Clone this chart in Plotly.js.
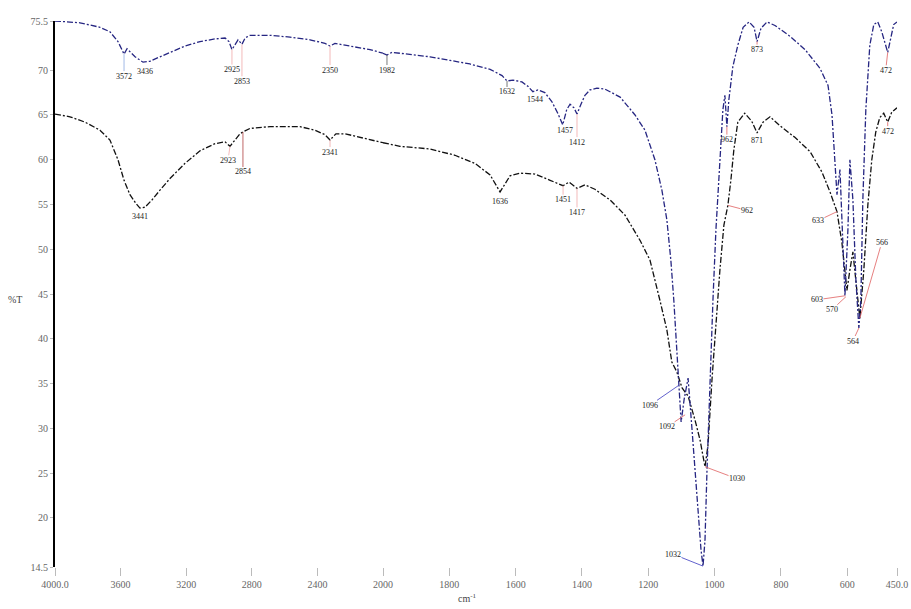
<!DOCTYPE html>
<html>
<head>
<meta charset="utf-8">
<script src="https://cdn.plot.ly/plotly-3.0.1.min.js"></script>
<style>html,body{margin:0;padding:0;background:#fff}#chart{width:911px;height:609px}</style>
</head>
<body>
<div id="chart"></div>
<script>
// ---- data (wavenumber cm-1, %T) ----
const blueWn = [4000,3848,3726,3665,3616,3591,3579,3561,3543,3512,3463,3421,3360,3299,3207,3116,3024,2963,2939,2921,2902,2884,2860,2841,2811,2689,2567,2445,2354,2323,2293,2201,2079,2000,
  1988,1973,1919,1858,1798,1738,1677,1641,1626,1608,1581,1563,1548,1533,1512,1491,1473,1458,1446,1436,1424,1415,1403,1391,1376,1355,1331,1285,1240,1210,1180,1159,1144,1132,1123,1114,1108,1101,1092,1080,1068,1053,1041,1035,1029,1023,1014,1005,996,984,975,969,963,957,945,930,914,896,881,872,860,842,818,773,727,682,658,646,637,631,622,613,607,598,592,583,574,565,559,553,544,532,520,508,496,478,469,460,450];
const blueT = [75.5,75.3,74.8,74.3,73.2,72.3,71.8,72.4,72.1,71.5,70.9,71.0,71.5,72.0,72.7,73.2,73.5,73.6,73.2,72.3,72.9,73.4,72.9,73.6,73.9,73.9,73.7,73.4,73.0,72.7,73.0,72.7,72.3,71.9,
  71.7,72.0,71.8,71.5,71.1,70.7,70.1,69.4,68.8,68.9,68.7,68.2,67.6,67.8,67.5,66.5,65.2,63.9,65.6,66.2,65.8,65.1,66.2,67.2,67.8,68.0,67.9,67.0,65.0,63.3,60.0,56.6,53.3,48.8,44.3,38.7,34.8,30.7,33.2,35.6,29.8,22.0,16.4,14.6,17.5,25.3,35.4,44.3,52.2,60.0,65.6,67.2,63.7,66.7,70.4,72.8,74.8,75.4,74.8,73.2,74.7,75.4,75.0,73.8,72.3,70.2,68.3,65.0,60.0,56.1,58.9,51.0,44.8,52.2,60.0,55.5,46.6,41.2,44.3,55.5,65.6,72.8,75.1,75.4,74.3,72.0,73.6,75.1,75.4];
const blackWn = [4000,3909,3817,3726,3665,3616,3579,3543,3506,3482,3451,3409,3360,3299,3207,3116,3024,2963,2933,2902,2872,2854,2811,2689,2506,2415,2354,2323,2287,2232,2110,2000,
  1949,1858,1783,1723,1677,1647,1632,1617,1587,1542,1496,1457,1439,1415,1391,1361,1315,1270,1225,1195,1165,1144,1129,1114,1098,1080,1059,1044,1029,1020,1008,996,984,972,960,951,942,930,909,888,872,854,833,803,758,712,676,652,631,616,601,592,583,571,562,550,538,526,514,502,490,478,466,450];
const blackT = [65.1,64.8,64.2,63.3,62.2,60.0,57.7,56.1,55.1,54.6,54.7,55.5,56.6,57.9,59.6,61.0,61.8,62.0,61.5,62.2,62.9,63.1,63.5,63.7,63.7,63.3,62.8,62.2,62.9,62.9,62.4,61.9,
  61.5,61.2,60.5,59.6,58.3,56.4,57.3,58.2,58.5,58.4,57.7,57.1,57.5,56.8,57.2,56.7,55.5,53.8,51.0,48.8,44.3,41.0,37.4,36.3,34.5,33.6,30.9,28.7,25.7,28.1,35.4,42.1,47.7,52.7,54.9,57.7,61.1,64.2,65.2,64.3,63.0,64.2,64.8,63.8,62.5,60.9,58.6,56.4,54.2,50.7,45.4,47.7,49.7,45.4,42.3,47.7,54.9,60.0,63.1,64.7,65.2,64.2,65.3,65.8];

// peak labels
const blueLabels = ["3572","3436","2925","2853","2350","1982","1632","1544","1457","1412","1096","1032","962","873","472","603","564"];
const blueLabelWn = [3579,3463,2921,2860,2323,1988,1626,1548,1458,1415,1108,1035,963,872,478,607,565];
const blueLabelT  = [71.8,70.9,72.3,72.9,72.7,71.7,68.8,67.6,63.9,65.1,34.8,14.6,63.7,73.2,72.0,44.8,41.2];
const blackLabels = ["3441","2923","2854","2341","1636","1451","1417","1092","1030","962","871","633","570","566","472"];
const blackLabelWn = [3482,2933,2854,2323,1647,1457,1415,1089,1029,960,872,631,604,562,478];
const blackLabelT  = [54.6,61.5,63.1,62.2,56.4,57.1,56.8,31.5,25.7,54.9,63.0,54.2,44.7,42.3,64.2];

const xTicksHi = [4000,3600,3200,2800,2400,2000];
const xTextHi  = ["4000.0","3600","3200","2800","2400","2000"];
const xTicksLo = [1800,1600,1400,1200,1000,800,600,450];
const xTextLo  = ["1800","1600","1400","1200","1000","800","600","450.0"];
const yTicks = [75.5,70,65,60,55,50,45,40,35,30,25,20,14.5];
const yText  = ["75.5","70","65","60","55","50","45","40","35","30","25","20","14.5"];

// ---- label leader styles (offsets px, line colour) ----
const PINK = '#f0a8a8', RED = '#e06060', DARK = '#555', BLUEL = '#3a3ac0', LB = '#8aa8e0', NONE = 'rgba(255,255,255,0)';
const blueStyle = [[0,22,LB],[2,9,NONE],[0,20,PINK],[0,37,PINK],[0,24,PINK],[0,15,DARK],[0,11,DARK],[2,8,NONE],[2,6,NONE],[0,28,PINK],
  [-29,20,BLUEL],[-30,-12,BLUEL],[0,13,RED],[0,8,RED],[-2,18,RED],[-28,4,RED],[-6,13,RED]];
const blackStyle = [[0,8,NONE],[-2,14,PINK],[0,40,'#b04040'],[0,12,PINK],[0,10,NONE],[0,14,PINK],[0,24,PINK],[-18,12,RED],[32,12,RED],
  [19,5,RED],[0,8,NONE],[-19,9,RED],[-14,13,RED],[22,-76,RED],[0,9,RED]];

function split(wn, t, hi) {
  const xs = [], ys = [];
  wn.forEach((w, i) => { if (hi ? w >= 2000 : w <= 2000) { xs.push(w); ys.push(t[i]); } });
  return {x: xs, y: ys};
}
const blueC = '#262682', blackC = '#111111';
const dashP = '6px,2px,2px,2px';
function tr(wn, t, hi, color) {
  const s = split(wn, t, hi);
  return {x: s.x, y: s.y, type: 'scatter', mode: 'lines', xaxis: hi ? 'x' : 'x2', yaxis: 'y',
    line: {color: color, width: 1.3, dash: dashP}, hoverinfo: 'skip', showlegend: false};
}
const traces = [
  tr(blackWn, blackT, true, blackC), tr(blackWn, blackT, false, blackC),
  tr(blueWn, blueT, true, blueC), tr(blueWn, blueT, false, blueC)
];

const annotations = [];
function addLabels(labels, wn, t, style) {
  labels.forEach((txt, i) => {
    annotations.push({
      text: txt, x: wn[i], y: t[i], xref: wn[i] > 2000 ? 'x' : 'x2', yref: 'y',
      showarrow: true, arrowhead: 0, arrowwidth: 0.8, arrowcolor: style[i][2], standoff: 0,
      ax: style[i][0], ay: style[i][1], borderpad: 0,
      font: {family: 'Liberation Serif, serif', size: 8, color: '#222222'}
    });
  });
}
addLabels(blueLabels, blueLabelWn, blueLabelT, blueStyle);
addLabels(blackLabels, blackLabelWn, blackLabelT, blackStyle);
annotations.push({text: '%T', xref: 'paper', yref: 'paper', x: -0.058, y: 0.49, showarrow: false,
  font: {family: 'Liberation Serif, serif', size: 10, color: '#444'}});
annotations.push({text: 'cm<sup>-1</sup>', xref: 'paper', yref: 'paper', x: 0.49, y: -0.072, showarrow: false,
  font: {family: 'Liberation Serif, serif', size: 10, color: '#444'}});

const split2000 = 328 / 842;
const tickFont = {family: 'Liberation Serif, serif', size: 10, color: '#666'};
const layout = {
  width: 911, height: 609,
  margin: {l: 55, r: 14, t: 21, b: 42},
  paper_bgcolor: '#fff', plot_bgcolor: '#fff',
  xaxis: {domain: [0, split2000], range: [4000, 2000], tickvals: xTicksHi, ticktext: xTextHi,
    showgrid: false, zeroline: false, showline: false, ticks: 'outside', ticklen: 8, tickcolor: '#bbb', tickfont: tickFont, anchor: 'y'},
  xaxis2: {domain: [split2000, 1], range: [2000, 450], tickvals: xTicksLo, ticktext: xTextLo,
    showgrid: false, zeroline: false, showline: false, ticks: 'outside', ticklen: 8, tickcolor: '#bbb', tickfont: tickFont, anchor: 'y'},
  yaxis: {range: [14.5, 75.5], tickvals: yTicks, ticktext: yText, showgrid: false, zeroline: false,
    showline: true, linecolor: '#000', linewidth: 2, ticks: 'outside', ticklen: 3, tickcolor: '#bbb', tickfont: tickFont},
  annotations: annotations
};
Plotly.newPlot('chart', traces, layout, {staticPlot: true, displayModeBar: false});
</script>
</body>
</html>
